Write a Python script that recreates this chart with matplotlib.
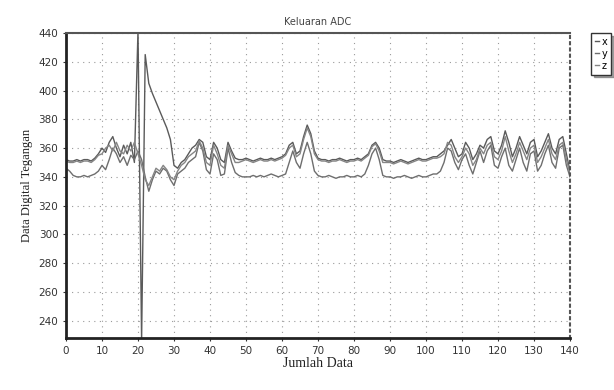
import numpy as np
import matplotlib
matplotlib.use("Agg")
import matplotlib.pyplot as plt

sample_idx = np.arange(0, 141)

series_x = [352,351,351,352,351,352,352,351,353,356,
            360,357,364,368,360,354,362,356,364,350,
            442,226,425,405,398,392,386,380,374,366,
            348,346,350,352,356,360,362,366,364,354,
            352,364,360,352,350,364,358,353,352,352,
            353,352,351,352,353,352,352,353,352,353,
            354,356,362,364,356,358,368,376,370,358,
            353,352,352,351,352,352,353,352,351,352,
            352,353,352,354,356,362,364,360,352,351,
            351,350,351,352,351,350,351,352,353,352,
            352,353,354,354,356,358,362,366,360,354,
            356,364,360,352,356,362,360,366,368,358,
            356,362,372,364,354,360,368,362,356,364,
            366,354,358,364,370,360,356,366,368,356,
            344]

series_y = [346,344,341,340,340,341,340,341,342,344,
            348,345,352,360,356,350,354,348,355,352,
            358,352,340,330,338,344,342,346,344,338,
            334,342,344,346,350,352,354,364,358,345,
            342,356,352,341,342,360,350,343,341,340,
            340,340,341,340,341,340,341,342,341,340,
            341,342,350,358,350,346,356,364,356,344,
            341,340,340,341,340,339,340,340,341,340,
            340,341,340,342,348,356,360,352,341,340,
            340,339,340,340,341,340,339,340,341,340,
            340,341,342,342,344,350,360,358,350,345,
            352,356,348,342,350,358,350,358,362,348,
            346,354,360,348,344,352,360,350,344,356,
            358,344,348,356,362,350,346,360,362,348,
            340]

series_z = [351,350,350,351,350,351,351,350,352,355,
            356,360,362,358,364,358,356,362,358,364,
            356,348,338,334,340,346,344,348,345,340,
            338,344,348,350,354,356,358,365,360,350,
            348,362,356,348,346,362,356,350,350,351,
            352,351,350,351,352,351,351,352,351,352,
            353,355,360,362,354,356,366,374,368,356,
            352,351,351,350,351,351,352,351,350,351,
            351,352,351,353,355,361,363,358,350,350,
            350,349,350,351,350,349,350,351,352,351,
            351,352,353,353,354,356,364,362,354,350,
            354,360,356,348,352,360,356,362,364,354,
            352,358,368,358,350,356,364,358,352,360,
            362,350,354,360,366,356,352,362,364,352,
            342]

series_names = ["x", "y", "z"]
x_ticks = list(range(0, 141, 10))
y_ticks = list(range(240, 441, 20))

fig = plt.figure(figsize=(6.14, 3.9), dpi=100)
ax = fig.add_axes([66/614, 1-338/390, (570-66)/614, (338-33)/390])

colors = ["#5a5a5a", "#6e6e6e", "#858585"]
for vals, name, c in zip([series_x, series_y, series_z], series_names, colors):
    ax.plot(sample_idx, vals, color=c, lw=1.0, label=name)

ax.set_xlim(0, 140)
ax.set_ylim(228, 440)
ax.set_xticks(x_ticks)
ax.set_yticks(y_ticks)
ax.tick_params(labelsize=7.5, colors="#333333", length=2)
ax.grid(True, linestyle=(0, (1, 4)), color="#9a9a9a", lw=0.8)

for s in ["left", "bottom"]:
    ax.spines[s].set_linewidth(2)
    ax.spines[s].set_color("#222222")
ax.spines["top"].set_linewidth(1.5)
ax.spines["top"].set_color("#555555")
ax.spines["right"].set_linestyle((0, (1, 2)))
ax.spines["right"].set_color("#555555")
ax.spines["right"].set_linewidth(1.5)

ax.set_title("Keluaran ADC", fontsize=7, color="#444444", pad=6)
ax.set_xlabel("Jumlah Data", family="Liberation Serif", fontsize=10, color="#222222", labelpad=1)
ax.set_ylabel("Data Digital Tegangan", family="Liberation Serif", fontsize=9, color="#222222", labelpad=4)

leg = fig.legend(loc="upper left", bbox_to_anchor=(586/614, 1-28/390),
                 fontsize=7, handlelength=0.4, handletextpad=0.3,
                 frameon=True, shadow=True, fancybox=False,
                 borderpad=0.4, labelspacing=0.2)
leg.get_frame().set_edgecolor("#333333")
leg.get_frame().set_linewidth(1.0)

fig.savefig("out.png", dpi=100)
